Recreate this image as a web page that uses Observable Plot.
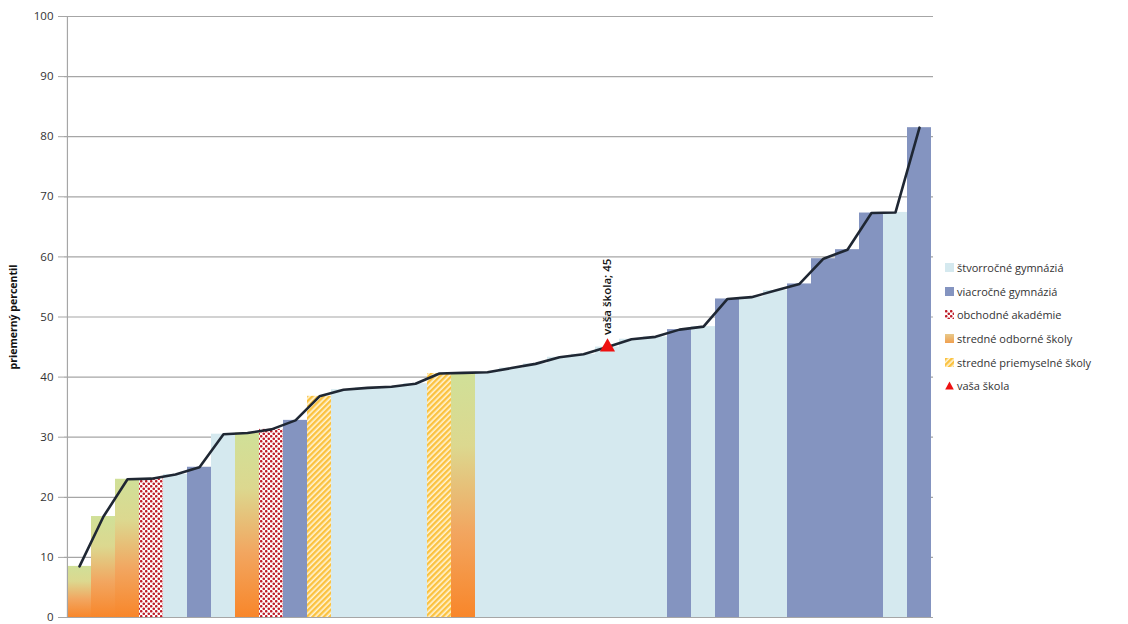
<!DOCTYPE html>
<html>
<head>
<meta charset="utf-8">
<script src="https://cdn.jsdelivr.net/npm/d3@7"></script>
<script src="https://cdn.jsdelivr.net/npm/@observablehq/plot@0.6"></script>
<style>
  html, body { margin: 0; padding: 0; background: #fff; }
  #wrap { position: relative; width: 1128px; height: 624px; font-family: "Open Sans", "Noto Sans", sans-serif; }
  #legend { position: absolute; left: 945px; top: 256px; font-size: 11px; color: #333; }
  #legend .item { height: 23.6px; display: flex; align-items: center; white-space: nowrap; }
  #legend svg { margin-right: 3px; flex: none; }
</style>
</head>
<body>
<div id="wrap"><div id="chart"></div><div id="legend"></div></div>
<script>
// ---- data ----
const categoryNames = ["štvorročné gymnáziá", "viacročné gymnáziá", "obchodné akadémie", "stredné odborné školy", "stredné priemyselné školy"];
const categoryKeys = ["L", "V", "O", "S", "P"];
const schoolTypes = ["S","S","S","O","L","V","L","S","O","V","P","L","L","L","L","P","S","L","L","L","L","L","L","L","L","V","L","V","L","L","V","V","V","V","L","V"];
const percentiles = [8.5,16.8,23.0,23.1,23.8,25.0,30.5,30.7,31.3,32.8,36.8,37.9,38.2,38.4,38.9,40.6,40.7,40.8,41.5,42.2,43.3,43.8,45.0,46.3,46.7,47.9,48.4,53.0,53.3,54.4,55.5,59.7,61.2,67.3,67.4,81.5];
const schoolIds = schoolTypes.map((_, i) => "škola " + (i + 1));
const yTicks = [0,10,20,30,40,50,60,70,80,90,100];
const ownSchoolIndex = 22;
const ownSchoolValue = 45;
const ownSchoolLabel = "vaša škola; 45";
const ownSchoolLegend = "vaša škola";
const yLabel = "priemerný percentil";

const fills = { L: "#d5e9ef", V: "#8494c0", O: "url(#dots)", S: "url(#grad)", P: "url(#hatch)" };

const rows = schoolIds.map((id, i) => ({ id, type: schoolTypes[i], value: percentiles[i] }));

const width = 1128, height = 624;
const marginLeft = 64, marginRight = 195, marginTop = 16, marginBottom = 7;
const bw = (width - marginLeft - marginRight) / schoolIds.length;

const marks = [
  Plot.ruleY(yTicks.filter(d => d > 0), { stroke: "#a6a6a6", strokeWidth: 1.2 }),
  ...categoryKeys.map(k => Plot.barY(rows.filter(r => r.type === k), { x: "id", y: "value", fill: fills[k] })),
  Plot.ruleY([0], { stroke: "#a6a6a6", strokeWidth: 1.2 }),
  Plot.ruleX([schoolIds[0]], { dx: -bw / 2, stroke: "#a6a6a6", strokeWidth: 1.2 }),
  Plot.line(rows, { x: "id", y: "value", stroke: "#1f2733", strokeWidth: 2.6, curve: "linear" }),
  Plot.dot([ownSchoolIndex], { x: i => schoolIds[i], y: () => ownSchoolValue, symbol: "triangle", r: 5.6, fill: "#ee1111", stroke: "none" }),
  Plot.text([ownSchoolIndex], { x: i => schoolIds[i], y: () => ownSchoolValue, text: () => ownSchoolLabel, rotate: -90, textAnchor: "start", dy: -12, fontSize: 11.5, fontWeight: 600, fill: "#111" }),
  Plot.axisY({ ticks: yTicks, tickSize: 6, tickPadding: 5, stroke: "#a6a6a6", fill: "#333", fontSize: 11.5, label: null }),
  Plot.text([yLabel], { frameAnchor: "left", textAnchor: "middle", dx: -51, rotate: -90, text: d => d, fontWeight: 700, fontSize: 10.5, fill: "#111" })
];

const chart = Plot.plot({
  width, height, marginLeft, marginRight, marginTop, marginBottom,
  style: { fontFamily: "'Open Sans', 'Noto Sans', sans-serif", background: "#fff" },
  x: { type: "band", domain: schoolIds, padding: 0, axis: null },
  y: { domain: [0, 100] },
  marks
});

// pattern / gradient definitions
const defs = `
<defs>
  <linearGradient id="grad" x1="0" y1="0" x2="0" y2="1">
    <stop offset="0" stop-color="#d0e098"/>
    <stop offset="0.3" stop-color="#dcd88f"/>
    <stop offset="0.65" stop-color="#f2a660"/>
    <stop offset="1" stop-color="#f8862a"/>
  </linearGradient>
  <pattern id="dots" width="5" height="5" patternUnits="userSpaceOnUse">
    <rect width="5" height="5" fill="#fff"/>
    <circle cx="1.25" cy="1.25" r="1.3" fill="#bf1d28"/>
    <circle cx="3.75" cy="3.75" r="1.3" fill="#bf1d28"/>
  </pattern>
  <pattern id="hatch" width="4" height="4" patternUnits="userSpaceOnUse" patternTransform="rotate(45)">
    <rect width="4" height="4" fill="#fff4d6"/>
    <rect width="2.4" height="4" fill="#fbc240"/>
  </pattern>
</defs>`;
chart.insertAdjacentHTML("afterbegin", defs);
document.getElementById("chart").appendChild(chart);

// legend
const legend = document.getElementById("legend");
const swatchFills = ["#d5e9ef", "#8494c0", "url(#dots)", "url(#lgrad)", "url(#hatch)"];
const legendDefs = `<svg width="0" height="0" style="position:absolute"><defs>
  <linearGradient id="lgrad" x1="0" y1="0" x2="0" y2="1">
    <stop offset="0" stop-color="#e8c98a"/><stop offset="1" stop-color="#f0a050"/>
  </linearGradient></defs></svg>`;
legend.insertAdjacentHTML("beforeend", legendDefs);
categoryNames.forEach((name, i) => {
  legend.insertAdjacentHTML("beforeend",
    `<div class="item"><svg width="9" height="9"><rect width="9" height="9" fill="${swatchFills[i]}"/></svg><span>${name}</span></div>`);
});
legend.insertAdjacentHTML("beforeend",
  `<div class="item"><svg width="9" height="9"><path d="M4.5,0.5 L8.8,8.5 L0.2,8.5 Z" fill="#ee1111"/></svg><span>${ownSchoolLegend}</span></div>`);
</script>
</body>
</html>
